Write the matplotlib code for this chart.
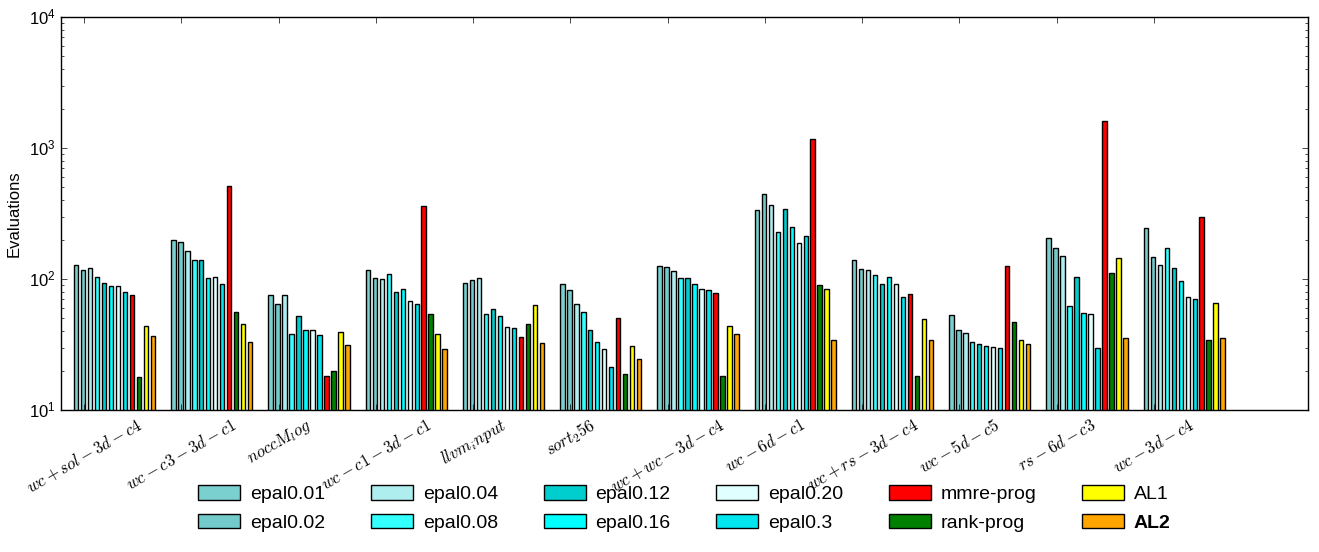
import numpy as np
import matplotlib
matplotlib.use("Agg")
import matplotlib.pyplot as plt

plt.style.use('classic')
plt.rcParams['font.family'] = ['Liberation Sans', 'DejaVu Sans']
plt.rcParams['mathtext.fontset'] = 'cm'

datasets = [r'$wc+sol-3d-c4$', r'$wc-c3-3d-c1$', r'$noccM_log$', r'$wc-c1-3d-c1$',
            r'$llvm_input$', r'$sort_256$', r'$wc+wc-3d-c4$', r'$wc-6d-c1$',
            r'$wc+rs-3d-c4$', r'$wc-5d-c5$', r'$rs-6d-c3$', r'$wc-3d-c4$']

series_names = ['epal0.01', 'epal0.02', 'epal0.04', 'epal0.08', 'epal0.12', 'epal0.16',
                'epal0.20', 'epal0.3', 'mmre-prog', 'rank-prog', 'AL1', 'AL2']

epal001 = [129, 197, 75, 117, 94, 91, 125, 337, 139, 53.5, 204, 244]
epal002 = [117, 191, 65, 101, 97.5, 82, 123, 447, 120, 41, 174, 146]
epal004 = [122, 165, 75, 99.6, 101, 65, 115, 368, 118, 38.9, 149, 127]
epal008 = [103, 139, 38, 110, 54, 56, 101, 228, 108, 33.2, 62.6, 174]
epal012 = [94, 139, 52, 79, 59, 41, 101, 343, 91, 32, 104.5, 122]
epal016 = [88, 101, 41, 84, 52.5, 33, 91, 249, 103, 30.9, 55.4, 97.4]
epal020 = [88, 103, 41, 68, 43, 29.3, 84, 188, 92, 30.4, 54.4, 73.5]
epal03 = [79, 91, 37.5, 64, 42.5, 21.4, 82, 213, 73.5, 29.9, 29.9, 70.4]
mmre_prog = [75, 514, 18.3, 361, 36, 50.7, 78, 1178, 76.5, 125, 1610, 296]
rank_prog = [18, 56, 19.9, 54, 45.6, 18.9, 18.3, 89.6, 18.2, 47.2, 112, 34.4]
al1 = [43.5, 45, 39.6, 38, 63, 30.9, 44, 84.6, 49.8, 34.4, 143.6, 66]
al2 = [37, 33, 31.6, 29.3, 32.6, 24.6, 37.8, 34, 34.4, 32, 35.6, 35.6]

series = [epal001, epal002, epal004, epal008, epal012, epal016,
          epal020, epal03, mmre_prog, rank_prog, al1, al2]
colors = ['#7ACFCF', '#72CACA', '#AEEEEE', '#33FFFF', '#00CDCD', '#00FFFF',
          '#E0FFFF', '#00E5EE', '#FF0000', '#008000', '#FFFF00', '#FFA500']

fig = plt.figure(figsize=(13.19, 5.52), dpi=100, facecolor='white')
ax = fig.add_axes([0.0462, 0.2572, 0.9455, 0.712])
ax.set_facecolor('white')

ind = np.arange(len(datasets))
step = 0.0717
width = 0.045
for i, (vals, col, name) in enumerate(zip(series, colors, series_names)):
    ax.bar(ind + i * step, vals, width, align='edge', color=col,
           edgecolor='black', linewidth=1.0, label=name)

ax.set_yscale('log')
ax.set_ylim(10, 10000)
ax.set_xlim(-0.134, 12.69)
ax.set_xticks(ind + 0.105)
ax.set_xticklabels(datasets, rotation=30, fontsize=12)
ax.set_ylabel('Evaluations', fontsize=12)
ax.tick_params(axis='y', labelsize=12)

leg = ax.legend(loc='upper center', bbox_to_anchor=(0.5, -0.147), ncol=6,
                frameon=False, fontsize=14, handlelength=2.16, handleheight=0.75,
                handletextpad=0.5, columnspacing=2.35, labelspacing=0.55)
for t in leg.get_texts():
    if t.get_text() == 'AL2':
        t.set_fontweight('bold')

fig.savefig('out.png', dpi=100, facecolor='white')
